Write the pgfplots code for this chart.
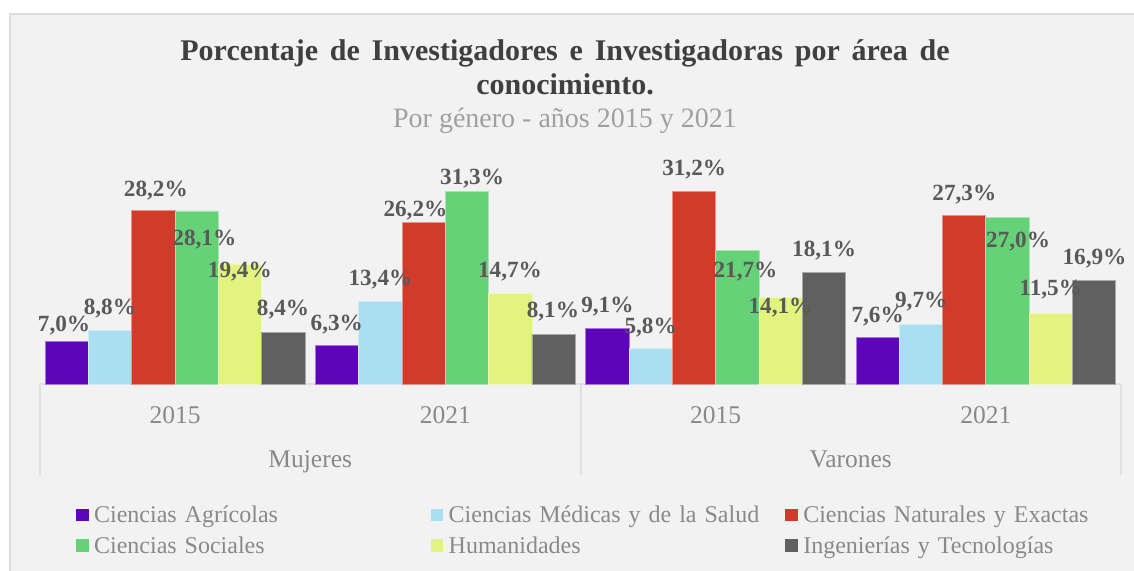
\documentclass[border=0pt]{standalone}
\usepackage{fontspec}
\setmainfont{Liberation Serif}
\usepackage{pgfplots}
\usepackage{pgfplotstable}
\pgfplotsset{compat=1.18}
\definecolor{cAgr}{HTML}{5E05BA}
\definecolor{cMed}{HTML}{A9DFF1}
\definecolor{cNat}{HTML}{D23B2A}
\definecolor{cSoc}{HTML}{65D277}
\definecolor{cHum}{HTML}{E2F37E}
\definecolor{cIng}{HTML}{606060}
\definecolor{panel}{HTML}{F2F2F2}
\definecolor{panelborder}{HTML}{DCDCDC}
\definecolor{axline}{HTML}{E0E0E0}
\definecolor{titletext}{HTML}{3F3F3F}
\definecolor{subtext}{HTML}{A0A0A0}
\definecolor{ticktext}{HTML}{898989}
\definecolor{labtext}{HTML}{595959}

% x = category, y = value, dx/dy = label offset (px) from bar top
\pgfplotstableread{
x y dx dy
0 7.0 -2.8 15.2
1 6.3 -0.3 20.9
2 9.1 0 21.2
3 7.6 0 20.4
}\tAgr
\pgfplotstableread{
x y dx dy
0 8.8 -0.3 21
1 13.4 0 22.1
2 5.8 0 20.7
3 9.7 0.3 22.8
}\tMed
\pgfplotstableread{
x y dx dy
0 28.2 2.4 19.4
1 26.2 -8.3 12.3
2 31.2 0.2 22.6
3 27.3 0.1 21.4
}\tNat
\pgfplotstableread{
x y dx dy
0 28.1 7.6 -28.2
1 31.3 5.1 12.7
2 21.7 8.2 -20.9
3 27.0 10.6 -24
}\tSoc
\pgfplotstableread{
x y dx dy
0 19.4 -0.2 -7.4
1 14.7 -0.3 22.3
2 14.1 -0.1 -10.2
3 11.5 -0.1 23.3
}\tHum
\pgfplotstableread{
x y dx dy
0 8.4 -0.3 23
1 8.1 -0.7 23
2 18.1 0.2 21.9
3 16.9 0.4 21.7
}\tIng

\begin{document}
\begin{tikzpicture}
\useasboundingbox (0,0) rectangle (567pt,-285pt);
\clip (0,0) rectangle (567pt,-285pt);
\fill[white] (0,0) rectangle (567pt,-285pt);
\filldraw[fill=panel, draw=panelborder, line width=1pt] (5pt,-7.15pt) rectangle (575pt,-295pt);
\node[anchor=base, font=\bfseries\fontsize{15}{17}\selectfont, text=titletext, inner sep=0pt] at (282.5pt,-30pt) {\spaceskip=5.9pt Porcentaje de Investigadores e Investigadoras por área de};
\node[anchor=base, font=\bfseries\fontsize{15}{17}\selectfont, text=titletext, inner sep=0pt] at (282.5pt,-47.25pt) {conocimiento.};
\node[anchor=base, font=\fontsize{14}{17}\selectfont, text=subtext, inner sep=0pt] at (282.5pt,-63.65pt) {Por género - años 2015 y 2021};
\begin{axis}[
  at={(20pt,-192.15pt)}, anchor=south west,
  scale only axis, width=540.5pt, height=108pt,
  xmin=-0.5, xmax=3.5, ymin=0, ymax=35, enlargelimits=false,
  ybar=0pt, bar width=0.1602,
  axis y line=none, axis x line*=bottom,
  x axis line style={draw=axline, line width=1pt},
  xtick={0,1,2,3}, xticklabels={2015,2021,2015,2021},
  major tick length=0pt,
  xticklabel style={font=\fontsize{12.75}{15}\selectfont, text=ticktext, yshift=-7.6pt},
  extra x ticks={-0.5,1.5,3.5}, extra x tick labels={},
  extra x tick style={major tick length=45.35pt, tick align=outside, tick style={draw=axline, line width=1pt}},
  clip=false,
  /pgf/number format/assume math mode=true,
  point meta=y,
  nodes near coords={\pgfmathprintnumber[fixed,fixed zerofill,precision=1,use comma]{\pgfplotspointmeta}\%},
  nodes near coords align={center},
  visualization depends on={\thisrow{dx} \as \ldx},
  visualization depends on={\thisrow{dy} \as \ldy},
  every node near coord/.append style={anchor=center, xshift=\ldx*0.5pt, yshift=\ldy*0.5pt, font=\bfseries\fontsize{11.6}{13}\selectfont, text=labtext, inner sep=0pt},
  legend columns=3, legend cell align=left,
  legend image code/.code={\fill[#1, draw=none] (0pt,-2.1pt) rectangle (6.3pt,4.1pt);},
  legend style={at={(0.0333,-0.5574)}, anchor=north west, draw=none, fill=none, inner sep=0pt, outer sep=0pt,
    font=\fontsize{12}{14}\selectfont, text=ticktext, row sep=3.3pt,
    nodes={inner sep=0pt, text width=168.25pt, align=left, text height=9pt, text depth=3pt},
    /tikz/every odd column/.append style={column sep=2.75pt},
    /tikz/every even column/.append style={column sep=0pt}},
]
\addplot[fill=cAgr, draw=cAgr!55!white, line width=0.4pt] table {\tAgr};
\addplot[fill=cMed, draw=cMed!55!white, line width=0.4pt] table {\tMed};
\addplot[fill=cNat, draw=cNat!55!white, line width=0.4pt] table {\tNat};
\addplot[fill=cSoc, draw=cSoc!55!white, line width=0.4pt] table {\tSoc};
\addplot[fill=cHum, draw=cHum!55!white, line width=0.4pt] table {\tHum};
\addplot[fill=cIng, draw=cIng!55!white, line width=0.4pt] table {\tIng};
\legend{Ciencias Agrícolas, Ciencias Médicas y de la Salud, Ciencias Naturales y Exactas, Ciencias Sociales, Humanidades, Ingenierías y Tecnologías}
\node[anchor=base, font=\fontsize{12.75}{15}\selectfont, text=ticktext, yshift=-41.5pt] at (axis cs:0.5,0) {Mujeres};
\node[anchor=base, font=\fontsize{12.75}{15}\selectfont, text=ticktext, yshift=-41.5pt] at (axis cs:2.5,0) {Varones};
\end{axis}
\end{tikzpicture}
\end{document}
